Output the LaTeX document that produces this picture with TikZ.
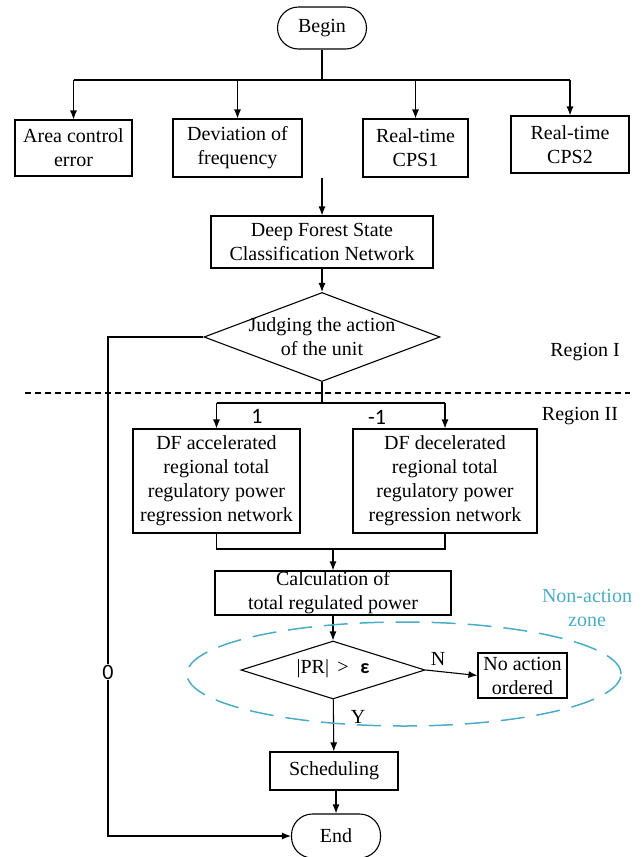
\documentclass[tikz,border=0pt]{standalone}
\usepackage{fontspec}
\setmainfont{Liberation Serif}
\newfontfamily\numfont{Carlito}
\usetikzlibrary{shapes.geometric,arrows.meta}
\definecolor{ZoneBlue}{HTML}{4BACC6}

\begin{document}
\begin{tikzpicture}[x=1pt,y=-1pt,>={Latex[length=9pt,width=7pt]},line width=1.1pt,
    font=\fontsize{20}{24}\selectfont]
  \tikzstyle{flowbox}=[draw,inner sep=0pt,align=center]
  \tikzstyle{termbox}=[draw,rounded corners=21pt,inner sep=0pt,
    minimum width=89pt,minimum height=42pt]
  \tikzstyle{decbox}=[draw,diamond,inner sep=0pt]
  \tikzstyle{numlabel}=[fill=white,inner sep=1pt,font=\numfont\fontsize{22}{24}\selectfont]
  \useasboundingbox (0,0) rectangle (644,857);
  \node[termbox] (begin) at (322,28) {Begin};
  \node[flowbox,minimum width=117pt,minimum height=56pt] (ace) at (73.5,148) {Area control\\error};
  \node[flowbox,minimum width=129pt,minimum height=58pt] (dev) at (237.5,148) {Deviation of\\frequency};
  \node[flowbox,minimum width=105pt,minimum height=58pt] (cpsa) at (415.5,148) {Real-time\\CPS1};
  \node[flowbox,minimum width=118pt,minimum height=57pt] (cpsb) at (570,144.5) {Real-time\\CPS2};
  \node[flowbox,minimum width=222pt,minimum height=52pt] (dfs) at (322,242) {Deep Forest State\\Classification Network};
  \node[decbox,minimum width=236pt,minimum height=89pt] (judge) at (322,337) {};
  \node[align=center] (judgetxt) at (judge) {Judging the action\\of the unit};
  \node (regA) at (585,352) {Region I};
  \node (regB) at (580,416) {Region II};
  \node[flowbox,minimum width=167pt,minimum height=104pt] (dfa) at (216.5,481) {DF accelerated\\regional total\\regulatory power\\regression network};
  \node[flowbox,minimum width=184pt,minimum height=104pt] (dfd) at (445,481) {DF decelerated\\regional total\\regulatory power\\regression network};
  \node[flowbox,minimum width=236pt,minimum height=44pt] (calc) at (333,593) {Calculation of\\total regulated power};
  \node[decbox,minimum width=184pt,minimum height=58pt] (pr) at (333,670) {};
  \node (prtxt) at (333,669) {|PR| \,>\,\, {\numfont\bfseries ε}};
  \node[flowbox,minimum width=89pt,minimum height=45pt] (noact) at (522.5,675.5) {No action\\ordered};
  \node[flowbox,minimum width=128pt,minimum height=38pt] (sched) at (334,771) {Scheduling};
  \node[termbox,minimum height=44pt] (end) at (336,836) {End};
  \node[text=ZoneBlue,align=center] (zonelabel) at (587,608) {Non-action\\zone};
  \coordinate (topsplit) at (322,80);
  \coordinate (feed) at (322,178);
  \coordinate (split) at (322,403);
  \coordinate (merge) at (333,549);
  \coordinate (bypass) at (108,672);
  \draw (begin) -- (topsplit);
  \draw (topsplit -| ace) -- (topsplit -| cpsb);
  \draw[->] (topsplit -| ace) -- (ace);
  \draw[->] (topsplit -| dev) -- (dev);
  \draw[->] (topsplit -| cpsa) -- (cpsa);
  \draw[->] (topsplit -| cpsb) -- (cpsb);
  \draw[->] (feed) -- (dfs);
  \draw[->] (dfs) -- (judge);
  \draw[dashed,dash pattern=on 6pt off 4pt] (25,393) -- (630,393);
  \draw (judge) -- (split);
  \draw (split -| dfa) -- (split -| dfd);
  \draw[->] (split -| dfa) -- (dfa);
  \draw[->] (split -| dfd) -- (dfd);
  \draw (dfa) -- (dfa.south |- merge) -- (dfd.south |- merge) -- (dfd);
  \draw[->] (merge) -- (calc);
  \draw[->] (calc) -- (pr);
  \draw[->] (pr.east) -- (noact.west);
  \draw[->] (pr) -- (sched);
  \draw[->] (sched.south -| end) -- (end);
  \draw[->] (judge.west) -- (judge.west -| bypass) -- (bypass |- end.west) -- (end.west);
  \draw[ZoneBlue,line width=1.5pt,dash pattern=on 24pt off 12pt] (404,674) ellipse [x radius=217pt,y radius=52pt];
  \node[numlabel] (zero) at (bypass) {0};
  \node[numlabel] (one) at (257,416) {1};
  \node[numlabel] (minusone) at (377,417) {-1};
  \node (yes) at (358,717) {Y};
  \node (no) at (438,659) {N};
\end{tikzpicture}
\end{document}
